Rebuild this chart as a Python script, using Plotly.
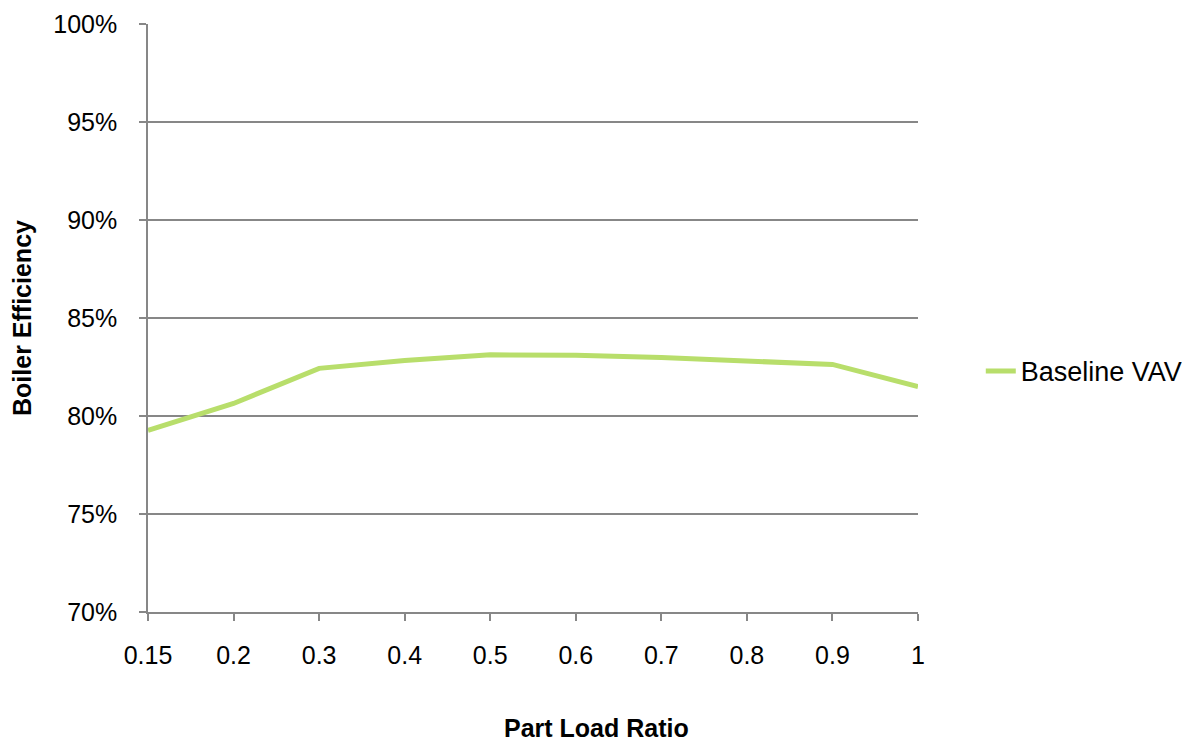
import plotly.graph_objects as go

part_load_ratio = ["0.15", "0.2", "0.3", "0.4", "0.5", "0.6", "0.7", "0.8", "0.9", "1"]
baseline_vav = [0.7927, 0.8064, 0.8243, 0.8283, 0.8312, 0.8310, 0.8298, 0.8280, 0.8263, 0.8150]

series_name = "Baseline VAV"
x_title = "Part Load Ratio"
y_title = "Boiler Efficiency"

FONT = "Liberation Sans, Arial, sans-serif"
GRID = "#878787"

fig = go.Figure()
fig.add_trace(go.Scatter(
    x=part_load_ratio, y=baseline_vav, mode="lines", name=series_name,
    line=dict(color="#B8DE6B", width=5),
))

fig.update_layout(
    width=1182, height=734,
    margin=dict(l=140, r=272, t=16, b=130),
    paper_bgcolor="white", plot_bgcolor="white",
    font=dict(family=FONT, size=25, color="#000000"),
    showlegend=True,
    legend=dict(xref="container", yref="container", x=0.823, y=0.505,
                xanchor="left", yanchor="middle",
                font=dict(size=27, color="#000000"), bgcolor="rgba(0,0,0,0)"),
    xaxis=dict(
        type="category", range=[0, 9], automargin=False,
        showgrid=False, showline=True, linecolor=GRID, linewidth=1.5,
        ticks="outside", ticklen=7, tickcolor=GRID, tickwidth=1.5,
        ticklabelstandoff=13,
        zeroline=False,
    ),
    yaxis=dict(
        range=[0.70, 1.00], dtick=0.05, tick0=0.70, tickformat=".0%", automargin=False,
        showgrid=True, gridcolor=GRID, gridwidth=1.5,
        showline=True, linecolor=GRID, linewidth=1.5,
        ticks="outside", ticklen=7, tickcolor=GRID, tickwidth=1.5,
        ticklabelstandoff=17,
        title=dict(text="<b>" + y_title + "</b>", font=dict(size=25), standoff=17),
        zeroline=False,
    ),
    annotations=[dict(
        text="<b>" + x_title + "</b>", xref="paper", yref="paper",
        x=0.583, y=-0.197, xanchor="center", yanchor="middle",
        showarrow=False, font=dict(size=25, color="#000000"),
    )],
)

fig.write_html("out.html")
